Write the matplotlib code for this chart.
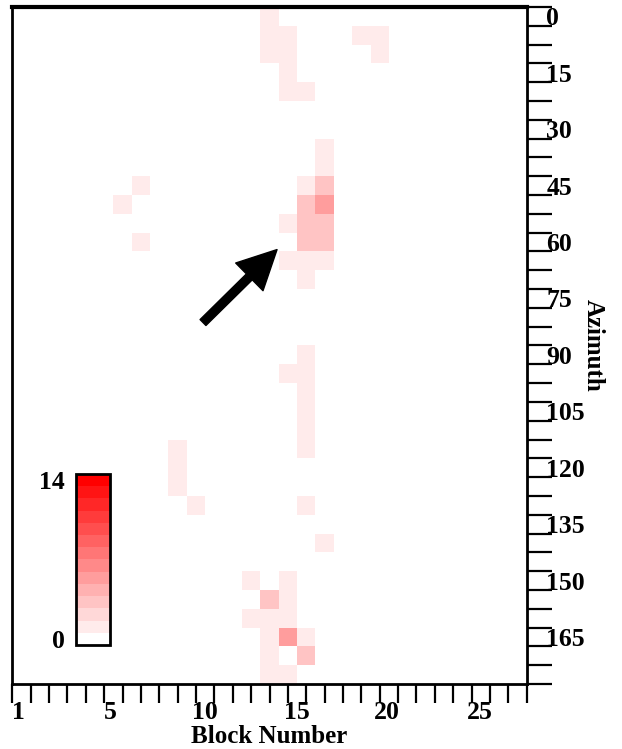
import numpy as np
import matplotlib
matplotlib.use('Agg')
import matplotlib.pyplot as plt
from matplotlib.colors import ListedColormap, BoundaryNorm

plt.rcParams['font.family'] = ['Liberation Serif', 'DejaVu Serif']
plt.rcParams['font.weight'] = 'bold'

# cell data: block column, azimuth (deg), count
block = [14, 14, 14, 15, 15, 15, 15, 16, 19, 20, 20,
         7, 6, 7,
         17, 17, 16, 17, 16, 17, 15, 16, 17, 16, 17, 15, 16, 17, 16,
         16, 16, 16, 16, 16, 16, 15, 16, 9, 9, 9, 10, 17,
         13, 15, 14, 15, 13, 14, 15, 14, 14, 14, 15, 15, 15, 16, 16]
azimuth = [0, 5, 10, 5, 10, 15, 20, 20, 5, 5, 10,
           45, 50, 60,
           35, 40, 45, 45, 50, 50, 55, 55, 55, 60, 60, 65, 65, 65, 70,
           90, 95, 100, 105, 110, 115, 95, 130, 115, 120, 125, 130, 140,
           150, 150, 155, 155, 160, 160, 160, 165, 170, 175, 165, 170, 175, 165, 170]
count = [1, 1, 1, 1, 1, 1, 1, 1, 1, 1, 1,
         1, 1, 1,
         1, 1, 1, 3, 3, 5, 1, 3, 3, 3, 3, 1, 1, 1, 1,
         1, 1, 1, 1, 1, 1, 1, 1, 1, 1, 1, 1, 1,
         1, 1, 3, 1, 1, 1, 1, 1, 1, 1, 5, 0, 1, 1, 3]

n_blocks = 28
az_step = 5
n_rows = 36

x_tick_labels = ['1', '5', '10', '15', '20', '25']
x_label_pos = [0.35, 5.35, 10.5, 15.5, 20.4, 25.45]
y_tick_labels = ['0', '15', '30', '45', '60', '75', '90', '105', '120', '135', '150', '165']

grid = np.zeros((n_rows, n_blocks + 1))
for b, a, c in zip(block, azimuth, count):
    grid[a // az_step, b] = c

levels = np.arange(15)
shades = [(1, 1 - i / 13, 1 - i / 13) for i in range(14)]
cmap = ListedColormap(shades)
norm = BoundaryNorm(levels, cmap.N)

fig = plt.figure(figsize=(6.22, 7.49), dpi=100)
ax = fig.add_axes([0.0198, 0.0868, 0.827, 0.9039])

x_edges = np.arange(n_blocks + 2) - 0.5
y_edges = np.arange(n_rows + 1) * az_step - az_step / 2
mesh = ax.pcolormesh(x_edges, y_edges, grid, cmap=cmap, norm=norm)
ax.set_xlim(0, n_blocks)
ax.set_ylim(y_edges[-1], y_edges[0])

# ticks at block positions / azimuth bin edges, labels in between
ax.set_xticks(np.arange(n_blocks + 1))
ax.set_xticklabels([])
ax.set_xticks(x_label_pos, minor=True)
ax.set_xticklabels(x_tick_labels, minor=True, fontsize=18.5, fontweight='bold')
ax.tick_params(axis='x', which='major', direction='out', length=14, width=1.6)
ax.tick_params(axis='x', which='minor', length=0, pad=12)

ax.yaxis.tick_right()
ax.set_yticks(y_edges)
ax.set_yticklabels([])
ax.set_yticks(np.arange(0, 166, 15), minor=True)
ax.set_yticklabels(y_tick_labels, minor=True, fontsize=18.5, fontweight='bold')
ax.tick_params(axis='y', which='major', direction='out', length=18, width=1.6,
               right=True, left=False)
ax.tick_params(axis='y', which='minor', length=0, pad=14, right=True, left=False)

ax.set_xlabel('Block Number', fontsize=18, fontweight='bold', labelpad=1)
ax.yaxis.set_label_position('right')
ax.set_ylabel('Azimuth', fontsize=18, fontweight='bold', rotation=270, labelpad=14)

for s in ax.spines.values():
    s.set_linewidth(2)
    s.set_color('black')
ax.spines['top'].set_linewidth(3)

ax.annotate('', xy=(14.41, 62.0), xytext=(10.38, 81.4),
            arrowprops=dict(facecolor='black', edgecolor='black',
                            width=6, headwidth=28, headlength=28))

# colour scale
cax = fig.add_axes([0.122, 0.1389, 0.0547, 0.2283])
cb = fig.colorbar(mesh, cax=cax, boundaries=levels, ticks=[0.5, 13.5])
cb.set_ticklabels(['0', '14'])
cax.minorticks_off()
cax.yaxis.set_ticks_position('left')
cax.tick_params(which='both', length=0, labelsize=18.5, pad=8)
for lab in cax.get_yticklabels():
    lab.set_fontweight('bold')
cb.outline.set_linewidth(2)
cb.outline.set_edgecolor('black')

fig.savefig('out.png', dpi=100)
